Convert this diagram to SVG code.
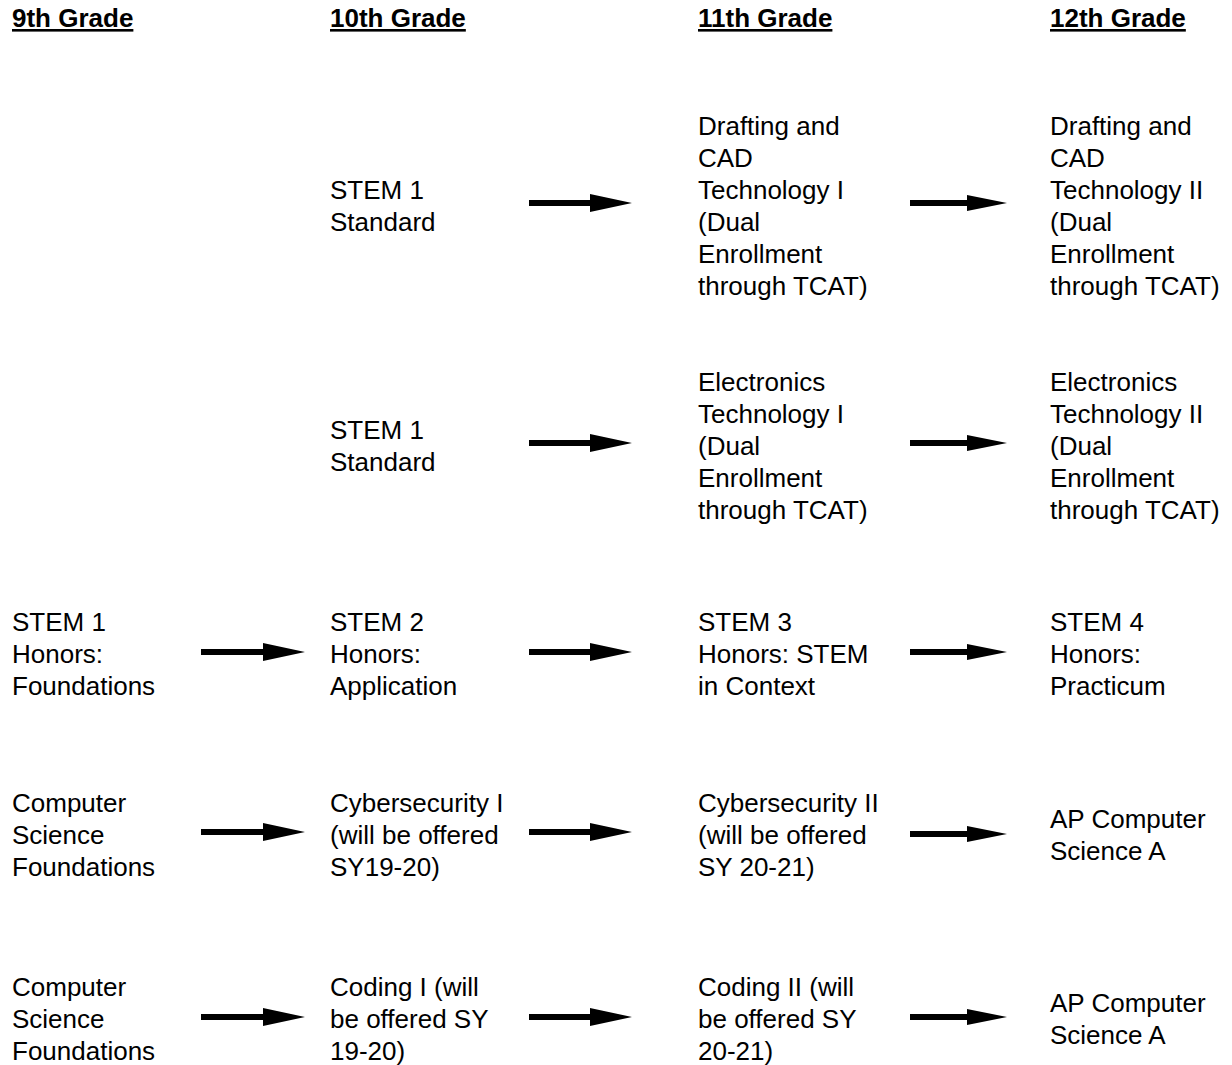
<svg xmlns="http://www.w3.org/2000/svg" width="1232" height="1065" viewBox="0 0 1232 1065">
<style>
  text { font-family: "Liberation Sans", Arial, sans-serif; font-size: 26px; fill: #000; }
  .hdr { font-weight: bold; text-decoration: underline; }
  .arrow { fill: #000; }
</style>
<defs>
  <filter id="soft" x="-5%" y="-30%" width="110%" height="160%">
    <feGaussianBlur stdDeviation="0.6"/>
  </filter>
</defs>
<rect width="1232" height="1065" fill="#fff"/>

<g id="headers">
  <text class="hdr" x="12" y="27">9th Grade</text>
  <text class="hdr" x="330" y="27">10th Grade</text>
  <text class="hdr" x="698" y="27">11th Grade</text>
  <text class="hdr" x="1050" y="27">12th Grade</text>
</g>

<!-- Row 1 -->
<g id="r1c10"><text x="330" y="199">STEM 1</text><text x="330" y="231">Standard</text></g>
<g id="r1c11"><text x="698" y="135">Drafting and</text><text x="698" y="167">CAD</text><text x="698" y="199">Technology I</text><text x="698" y="231">(Dual</text><text x="698" y="263">Enrollment</text><text x="698" y="295">through TCAT)</text></g>
<g id="r1c12"><text x="1050" y="135">Drafting and</text><text x="1050" y="167">CAD</text><text x="1050" y="199">Technology II</text><text x="1050" y="231">(Dual</text><text x="1050" y="263">Enrollment</text><text x="1050" y="295">through TCAT)</text></g>

<!-- Row 2 -->
<g id="r2c10"><text x="330" y="439">STEM 1</text><text x="330" y="471">Standard</text></g>
<g id="r2c11"><text x="698" y="391">Electronics</text><text x="698" y="423">Technology I</text><text x="698" y="455">(Dual</text><text x="698" y="487">Enrollment</text><text x="698" y="519">through TCAT)</text></g>
<g id="r2c12"><text x="1050" y="391">Electronics</text><text x="1050" y="423">Technology II</text><text x="1050" y="455">(Dual</text><text x="1050" y="487">Enrollment</text><text x="1050" y="519">through TCAT)</text></g>

<!-- Row 3 -->
<g id="r3c9"><text x="12" y="631">STEM 1</text><text x="12" y="663">Honors:</text><text x="12" y="695">Foundations</text></g>
<g id="r3c10"><text x="330" y="631">STEM 2</text><text x="330" y="663">Honors:</text><text x="330" y="695">Application</text></g>
<g id="r3c11"><text x="698" y="631">STEM 3</text><text x="698" y="663">Honors: STEM</text><text x="698" y="695">in Context</text></g>
<g id="r3c12"><text x="1050" y="631">STEM 4</text><text x="1050" y="663">Honors:</text><text x="1050" y="695">Practicum</text></g>

<!-- Row 4 -->
<g id="r4c9"><text x="12" y="812">Computer</text><text x="12" y="844">Science</text><text x="12" y="876">Foundations</text></g>
<g id="r4c10"><text x="330" y="812">Cybersecurity I</text><text x="330" y="844">(will be offered</text><text x="330" y="876">SY19-20)</text></g>
<g id="r4c11"><text x="698" y="812">Cybersecurity II</text><text x="698" y="844">(will be offered</text><text x="698" y="876">SY 20-21)</text></g>
<g id="r4c12"><text x="1050" y="828">AP Computer</text><text x="1050" y="860">Science A</text></g>

<!-- Row 5 -->
<g id="r5c9"><text x="12" y="996">Computer</text><text x="12" y="1028">Science</text><text x="12" y="1060">Foundations</text></g>
<g id="r5c10"><text x="330" y="996">Coding I (will</text><text x="330" y="1028">be offered SY</text><text x="330" y="1060">19-20)</text></g>
<g id="r5c11"><text x="698" y="996">Coding II (will</text><text x="698" y="1028">be offered SY</text><text x="698" y="1060">20-21)</text></g>
<g id="r5c12"><text x="1050" y="1012">AP Computer</text><text x="1050" y="1044">Science A</text></g>

<g id="connectors" class="arrow" filter="url(#soft)">
  <!-- row 1 -->
  <path d="M529,200 H590 V194 L632,203 L590,212 V206 H529 Z"/>
  <path d="M910,200 H967 V195 L1007,203 L967,211 V206 H910 Z"/>
  <!-- row 2 -->
  <path d="M529,440 H590 V434 L632,443 L590,452 V446 H529 Z"/>
  <path d="M910,440 H967 V435 L1007,443 L967,451 V446 H910 Z"/>
  <!-- row 3 -->
  <path d="M201,649 H263 V643 L305,652 L263,661 V655 H201 Z"/>
  <path d="M529,649 H590 V643 L632,652 L590,661 V655 H529 Z"/>
  <path d="M910,649 H967 V644 L1007,652 L967,660 V655 H910 Z"/>
  <!-- row 4 -->
  <path d="M201,829 H263 V823 L305,832 L263,841 V835 H201 Z"/>
  <path d="M529,829 H590 V823 L632,832 L590,841 V835 H529 Z"/>
  <path d="M910,831 H967 V826 L1007,834 L967,842 V837 H910 Z"/>
  <!-- row 5 -->
  <path d="M201,1014 H263 V1008 L305,1017 L263,1026 V1020 H201 Z"/>
  <path d="M529,1014 H590 V1008 L632,1017 L590,1026 V1020 H529 Z"/>
  <path d="M910,1014 H967 V1009 L1007,1017 L967,1025 V1020 H910 Z"/>
</g>
</svg>
